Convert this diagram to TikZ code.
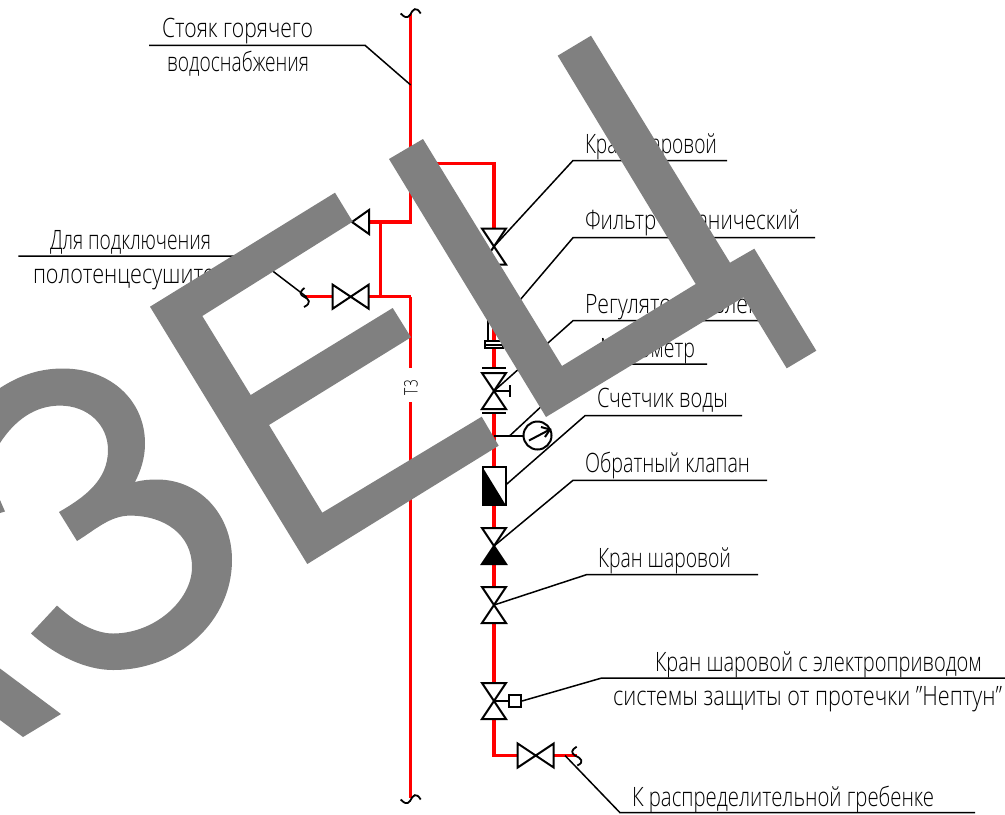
\documentclass[tikz,border=0pt]{standalone}
\usepackage{fontspec}
\usepackage{graphicx}
\setmainfont{Open Sans Light}
\newlength\pxu
\setlength\pxu{.75pt}
\newcommand\lab[5]{\node[lbl] (#1) at (#2,#4) {\resizebox{#3\pxu}{\height}{#5}};}
\tikzset{
  x=.75pt,y=-.75pt,
  pipe/.style={draw=pipered,line width=3.4\pxu},
  thin/.style={draw=black,line width=1.5\pxu,line join=miter},
  sym/.style={draw=black,line width=2\pxu,line join=miter},
  lead/.style={draw=black,line width=1.5\pxu},
  lbl/.style={anchor=base west,inner sep=0pt,outer sep=0pt,font=\fontsize{20pt}{21pt}\selectfont},
  wm/.style={fill=wmgray,draw=none},
}
\definecolor{pipered}{RGB}{255,0,0}
\definecolor{wmgray}{RGB}{128,128,128}
% vertical valve: name, x, y
\newcommand\vvalve[3]{\coordinate (#1) at (#2,#3);
  \draw[sym] ([shift={(-12,-18)}]#1) -- ([shift={(12,-18)}]#1) -- ([shift={(-12,18)}]#1) -- ([shift={(12,18)}]#1) -- cycle;}
% horizontal valve
\newcommand\hvalve[3]{\coordinate (#1) at (#2,#3);
  \draw[sym] ([shift={(-18,-12)}]#1) -- ([shift={(-18,12)}]#1) -- ([shift={(18,-12)}]#1) -- ([shift={(18,12)}]#1) -- cycle;}
\begin{document}
\begin{tikzpicture}
\useasboundingbox (0,0) rectangle (1005,814);
\fill[white] (0,0) rectangle (1005,814);

% junctions
\coordinate (rtop) at (410.7,14);
\coordinate (rgap1) at (410.7,368);
\coordinate (rgap2) at (410.7,402);
\coordinate (rbot) at (410.7,798);
\coordinate (jb) at (410.7,163.5);
\coordinate (jbc) at (494,163.5);
\coordinate (jl1) at (410.7,222);
\coordinate (jl2) at (410.7,296.7);
\coordinate (tl1) at (380.5,222);
\coordinate (tl2) at (380.5,296.7);
\coordinate (vend) at (494,755.5);
\coordinate (brk1) at (304,296.7);
\coordinate (brk2) at (576.7,755.5);

% valve coordinates
\coordinate (va) at (494,246.5);
\coordinate (vb) at (494,391);
\coordinate (vc) at (494,546);
\coordinate (vd) at (494,605);
\coordinate (ve) at (494,701);
\coordinate (vf) at (535.7,755.5);
\coordinate (vg) at (350.7,296.7);
\coordinate (vh) at (369,222);
\coordinate (gauge) at (537.5,435.5);
\coordinate (gj) at (494,435.5);

% pipes
\draw[pipe] (rtop) -- (jl1) -- (vh);
\draw[pipe] (jl2) -- (rgap1);
\draw[pipe] (rgap2) -- (rbot);
\draw[pipe] (tl1) -- (tl2);
\draw[pipe] (jl2) -- (369,296.7);
\draw[pipe] (332.7,296.7) -- (brk1);
\draw[pipe] (jb) -- (jbc) -- (494,228);
\draw[pipe] (494,265) -- (494,368);
\draw[pipe] (494,413) -- (gj) -- (494,467);
\draw[pipe] (494,505) -- (494,528);
\draw[pipe] (494,564) -- (494,587);
\draw[pipe] (494,623) -- (494,683);
\draw[pipe] (494,719) -- (vend) -- (517.7,755.5);
\draw[pipe] (553.7,755.5) -- (brk2);

% fittings drawn over the pipes
\vvalve{va}{494}{246.5}
\hvalve{vg}{350.7}{296.7}
\hvalve{vf}{535.7}{755.5}
\vvalve{vd}{494}{605}
\vvalve{ve}{494}{701}
\draw[sym] (352,222) -- (369,210) -- (369,234) -- cycle;
% regulator
\vvalve{vb}{494}{391}
\draw[sym] (482,368.3) -- (506,368.3);
\draw[sym] (482,413) -- (506,413);
\draw[sym] (vb) -- (510,391);
\draw[sym] (510,385) -- (510,397);
% check valve
\draw[sym] (482,528) -- (506,528) -- (494,546) -- cycle;
\draw[sym,fill=black] (494,546) -- (482,564) -- (506,564) -- cycle;
% water meter
\draw[sym,fill=white] (482.5,467) rectangle (505.7,505);
\fill[black] (482.5,467) -- (505.7,505) -- (482.5,505) -- cycle;
% gauge
\draw[sym] (gj) -- (523.5,435.5);
\draw[sym] (gauge) circle[radius=14];
\draw[sym] (529,440.5) -- (550,429.5);
\draw[sym] (541,427) -- (550,429.5) -- (545,437);
% electric actuator
\node[draw=black,line width=2\pxu,fill=white,minimum width=12\pxu,minimum height=12\pxu,inner sep=0pt] (act) at (515,701) {};
\draw[sym] (ve) -- (act);
% filter
\draw[sym] (488.3,300) -- (488.3,341);
\draw[sym,fill=white] (485,341) rectangle (503,348);
\draw[sym] (485,344.5) -- (503,344.5);

% pipe breaks
\draw[thin,line width=1.8\pxu] (400.7,13.5) .. controls (404,17) and (407,19) .. (410,15) .. controls (413,9) and (416,6) .. (420.7,13.5);
\draw[thin,line width=1.8\pxu] (400.7,799.5) .. controls (404,803) and (407,805) .. (410,801) .. controls (413,795) and (416,792) .. (420.7,799.5);
\draw[thin,line width=1.8\pxu] (304.5,288) .. controls (299,292) and (300,295) .. (304,296.7) .. controls (309,299) and (312,303) .. (304,307);
\draw[thin,line width=1.8\pxu] (576.7,746.7) .. controls (571,750) and (571,753) .. (575,755.5) .. controls (581,758) and (585,762) .. (577.3,765.5);

% labels
\lab{l1a}{162}{151}{37.5}{Стояк горячего}
\lab{l1b}{167}{142}{71.7}{водоснабжения}
\lab{l2}{585}{132}{153}{Кран шаровой}
\lab{l3}{585}{215}{229}{Фильтр механический}
\lab{l4}{585}{200}{313}{Регулятор давления}
\lab{l5}{600}{95}{357}{Манометр}
\lab{l6}{597}{131}{407}{Счетчик воды}
\lab{l7}{585}{165}{472.7}{Обратный клапан}
\lab{l8}{598}{133}{567.7}{Кран шаровой}
\lab{l9a}{655}{327}{671.7}{Кран шаровой с электроприводом}
\lab{l9b}{613}{389}{705}{системы защиты от протечки "Нептун"}
\lab{l10}{632}{302}{806}{К распределительной гребенке}
\lab{l11a}{50}{161}{249}{Для подключения}
\lab{l11b}{33}{205}{283}{полотенцесушителя}
\node[rotate=90,inner sep=0pt,font=\fontsize{14pt}{15pt}\selectfont] (t3) at (411,387.5) {\resizebox{15\pxu}{\height}{Т3}};

% leaders
\coordinate (k1) at (365,45.3);
\coordinate (k1s) at (149,45.3);
\coordinate (k1e) at (410.7,85);
\draw[lead] (k1s) -- (k1) -- (k1e);
\coordinate (k2) at (573,160.5);
\draw[lead] (727,160.5) -- (k2) -- (va);
\coordinate (k3) at (573,237.7);
\draw[lead] (815,237.7) -- (k3) -- (503,320);
\coordinate (k4) at (573,320.7);
\draw[lead] (790,320.7) -- (k4) -- (vb);
\coordinate (k5) at (587,364);
\draw[lead] (707,364) -- (k5) -- (510,435.5);
\coordinate (k6) at (585,415.7);
\draw[lead] (742,415.7) -- (k6) -- (505.7,485);
\coordinate (k7) at (573,480.3);
\draw[lead] (767,480.3) -- (k7) -- (vc);
\coordinate (k8) at (587,574.5);
\draw[lead] (758,574.5) -- (k8) -- (vd);
\coordinate (k9) at (601.7,678);
\draw[lead] (1005,678) -- (k9) -- (act.east);
\coordinate (k10) at (620,812.7);
\draw[lead] (975,812.7) -- (k10) -- (565,755.5);
\coordinate (k11) at (253,256);
\draw[lead] (18.3,256) -- (k11) -- (306.7,297);

% large grey overlay lettering
\fill[wm] (0,388) .. controls (20,375) and (40,368.5) .. (63,368.5)
  .. controls (110,368.5) and (145,400) .. (145,443.4)
  .. controls (145,458) and (141,470) .. (135,482)
  .. controls (142,480) and (150,479.5) .. (157,479.5)
  .. controls (200,479.5) and (232,515) .. (232,560)
  .. controls (232,620) and (180,670) .. (113,670)
  .. controls (85,670) and (55,655) .. (31,633.5)
  -- (57,605.6)
  .. controls (75,622) and (95,633.5) .. (113,633.5)
  .. controls (155,633.5) and (192,600) .. (192,567)
  .. controls (192,535) and (165,515.6) .. (130,515.6)
  .. controls (110,515.6) and (95,530) .. (77,541)
  -- (59,512)
  .. controls (85,497) and (108,480) .. (108,450)
  .. controls (108,425) and (88,405.6) .. (60,405.6)
  .. controls (35,405.6) and (15,420) .. (0,443) -- cycle;
\fill[wm] (0,500) -- (5,511.5) -- (0,513) -- cycle;
\fill[wm] (0,668.5) -- (61,714) -- (23,737) -- (0,720) -- cycle;
\fill[wm] (150,306.7) -- (335,192.7) -- (352.7,221.7) -- (202.3,316) -- (250.7,395)
  -- (392.7,308) -- (411,337.3) -- (269,425) -- (322.3,512.7) -- (481.7,416.7)
  -- (498.7,445.7) -- (307.3,564) -- cycle;
\fill[wm] (389,159) -- (423,139) -- (562,366) -- (695.7,284) -- (557.7,55.7) -- (591,35.7)
  -- (730,262.7) -- (754.3,248.7) -- (816.3,350.7) -- (786.7,368.3) -- (743.4,297.3)
  -- (546,417) -- cycle;
\end{tikzpicture}
\end{document}
